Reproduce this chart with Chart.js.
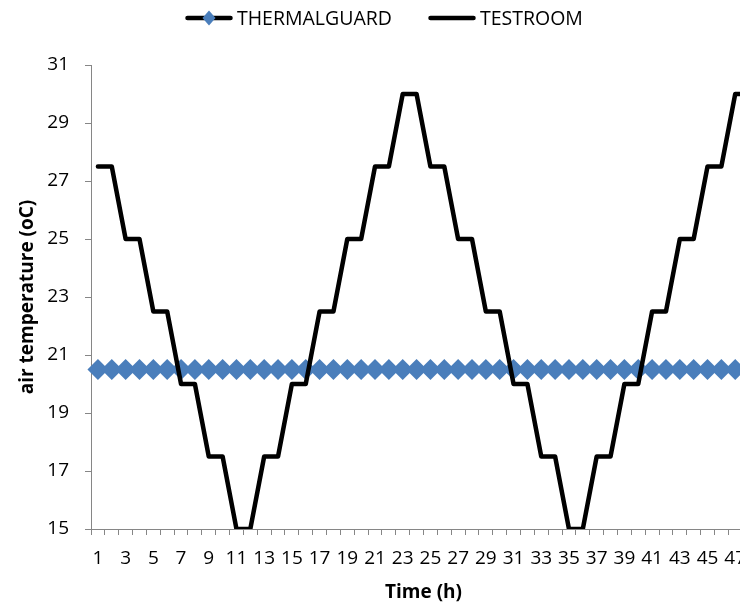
<!DOCTYPE html>
<html>
<head>
<meta charset="utf-8">
<script src="https://cdn.jsdelivr.net/npm/chart.js@4/dist/chart.umd.min.js"></script>
<style>
    html, body { margin: 0; padding: 0; overflow: hidden; background: #fff; }
    #wrap { position: relative; width: 740px; height: 609px; overflow: hidden; }
    #chart { display: block; }
    #legend {
        position: absolute; top: 7px; left: 185px;
        display: flex; align-items: center;
        font: 19.5px 'Open Sans', sans-serif; color: #000; line-height: 22px;
    }
    .item { display: flex; align-items: center; }
    .item svg { display: block; }
    .item span { margin-left: 4px; }
</style>
</head>
<body>
<div id="wrap">
    <canvas id="chart" width="772" height="609"></canvas>
    <div id="legend">
        <div class="item">
            <svg width="48" height="20" viewBox="0 0 48 20">
                <line x1="2.5" y1="10" x2="45.5" y2="10" stroke="#000" stroke-width="4.5" stroke-linecap="round"/>
                <polygon points="24,2.5 30.5,10 24,17.5 17.5,10" fill="#4A7EBB"/>
            </svg>
            <span>THERMALGUARD</span>
        </div>
        <div class="item" style="margin-left:36px">
            <svg width="48" height="20" viewBox="0 0 48 20">
                <line x1="2.5" y1="10" x2="45.5" y2="10" stroke="#000" stroke-width="4.5" stroke-linecap="round"/>
            </svg>
            <span>TESTROOM</span>
        </div>
    </div>
</div>
<script>
// Dados
const hours = [1, 2, 3, 4, 5, 6, 7, 8, 9, 10, 11, 12, 13, 14, 15, 16, 17, 18, 19, 20, 21, 22, 23, 24,
    25, 26, 27, 28, 29, 30, 31, 32, 33, 34, 35, 36, 37, 38, 39, 40, 41, 42, 43, 44, 45, 46, 47, 48];

const thermalguard = [20.5, 20.5, 20.5, 20.5, 20.5, 20.5, 20.5, 20.5, 20.5, 20.5, 20.5, 20.5,
    20.5, 20.5, 20.5, 20.5, 20.5, 20.5, 20.5, 20.5, 20.5, 20.5, 20.5, 20.5,
    20.5, 20.5, 20.5, 20.5, 20.5, 20.5, 20.5, 20.5, 20.5, 20.5, 20.5, 20.5,
    20.5, 20.5, 20.5, 20.5, 20.5, 20.5, 20.5, 20.5, 20.5, 20.5, 20.5, 20.5];

const testroom = [27.5, 27.5, 25, 25, 22.5, 22.5, 20, 20, 17.5, 17.5, 15, 15,
    17.5, 17.5, 20, 20, 22.5, 22.5, 25, 25, 27.5, 27.5, 30, 30,
    27.5, 27.5, 25, 25, 22.5, 22.5, 20, 20, 17.5, 17.5, 15, 15,
    17.5, 17.5, 20, 20, 22.5, 22.5, 25, 25, 27.5, 27.5, 30, 30];

const xTickLabels = [1, 3, 5, 7, 9, 11, 13, 15, 17, 19, 21, 23, 25, 27, 29, 31, 33, 35, 37, 39, 41, 43, 45, 47];
const yTicks = [15, 17, 19, 21, 23, 25, 27, 29, 31];

// Tema
Chart.defaults.font.family = "'Open Sans', sans-serif";
Chart.defaults.font.size = 19;
Chart.defaults.color = '#000';

const axisGray = '#868686';

new Chart(document.getElementById('chart'), {
    type: 'line',
    data: {
        labels: hours,
        datasets: [
            {
                label: 'THERMALGUARD',
                data: thermalguard,
                borderColor: '#000',
                borderWidth: 4.5,
                pointStyle: 'rectRot',
                pointRadius: 10.5,
                pointBackgroundColor: '#4A7EBB',
                pointBorderColor: '#4A7EBB',
                pointBorderWidth: 0,
                tension: 0,
                order: 1
            },
            {
                label: 'TESTROOM',
                data: testroom,
                borderColor: '#000',
                borderWidth: 4.5,
                borderJoinStyle: 'round',
                borderCapStyle: 'round',
                pointRadius: 0,
                tension: 0,
                order: 0
            }
        ]
    },
    options: {
        responsive: false,
        animation: false,
        layout: { padding: { top: 65, right: 16, left: 0, bottom: 0 } },
        plugins: {
            legend: { display: false },
            tooltip: { enabled: false }
        },
        scales: {
            x: {
                offset: true,
                grid: {
                    offset: true,
                    drawOnChartArea: false,
                    drawTicks: true,
                    tickLength: 6,
                    color: axisGray
                },
                border: { display: true, color: axisGray, width: 1 },
                ticks: {
                    autoSkip: false,
                    maxRotation: 0,
                    padding: 12,
                    callback: function(value, index) {
                        const h = hours[index];
                        return xTickLabels.includes(h) ? String(h) : '';
                    }
                },
                title: {
                    display: true,
                    text: 'Time (h)',
                    font: { size: 19, weight: 'bold' },
                    padding: { top: 0, bottom: 5 }
                },
                afterFit: (scale) => { scale.height = 80; }
            },
            y: {
                min: 15,
                max: 31,
                afterBuildTicks: (scale) => { scale.ticks = yTicks.map(v => ({ value: v })); },
                grid: {
                    drawOnChartArea: false,
                    drawTicks: true,
                    tickLength: 6,
                    color: axisGray
                },
                border: { display: true, color: axisGray, width: 1 },
                ticks: { padding: 16 },
                title: {
                    display: true,
                    text: 'air temperature (oC)',
                    font: { size: 19, weight: 'bold' },
                    padding: { top: 16, bottom: 0 }
                },
                afterFit: (scale) => { scale.width = 91; }
            }
        }
    }
});
</script>
</body>
</html>
